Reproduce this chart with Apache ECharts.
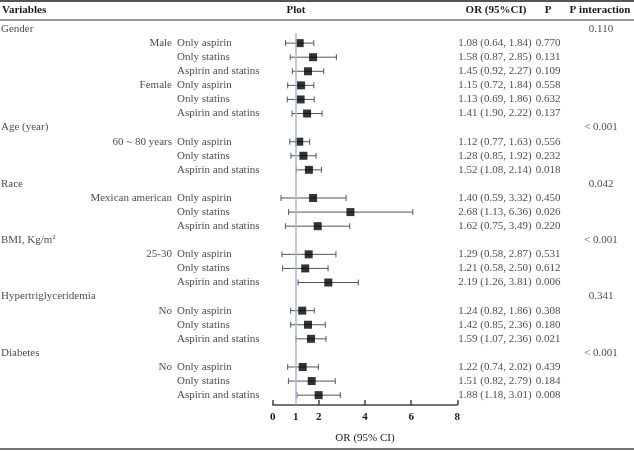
<!DOCTYPE html>
<html>
<head>
<meta charset="utf-8">
<script src="https://cdn.jsdelivr.net/npm/echarts@6/dist/echarts.min.js"></script>
<style>
  html, body { margin: 0; padding: 0; background: #fff; }
  #chart { width: 634px; height: 451px; }
</style>
</head>
<body>
<div id="chart"></div>
<script>
// table text
const groups = ['Gender', 'Age (year)', 'Race', 'BMI, Kg/m{sup|2}', 'Hypertriglyceridemia', 'Diabetes'];
const pInteraction = ['0.110', '< 0.001', '0.042', '< 0.001', '0.341', '< 0.001'];
const subgroups = [['Male', 'Female'], ['60 ~ 80 years'], ['Mexican american'], ['25-30'], ['No'], ['No']];
const treatments = ['Only aspirin', 'Only statins', 'Aspirin and statins'];
const orLabels = [
  '1.08 (0.64, 1.84)', '1.58 (0.87, 2.85)', '1.45 (0.92, 2.27)',
  '1.15 (0.72, 1.84)', '1.13 (0.69, 1.86)', '1.41 (1.90, 2.22)',
  '1.12 (0.77, 1.63)', '1.28 (0.85, 1.92)', '1.52 (1.08, 2.14)',
  '1.40 (0.59, 3.32)', '2.68 (1.13, 6.36)', '1.62 (0.75, 3.49)',
  '1.29 (0.58, 2.87)', '1.21 (0.58, 2.50)', '2.19 (1.26, 3.81)',
  '1.24 (0.82, 1.86)', '1.42 (0.85, 2.36)', '1.59 (1.07, 2.36)',
  '1.22 (0.74, 2.02)', '1.51 (0.82, 2.79)', '1.88 (1.18, 3.01)'
];
const pValues = [
  '0.770', '0.131', '0.109', '0.558', '0.632', '0.137',
  '0.556', '0.232', '0.018',
  '0.450', '0.026', '0.220',
  '0.531', '0.612', '0.006',
  '0.308', '0.180', '0.021',
  '0.439', '0.184', '0.008'
];
// points as drawn in the plot
const plotOR = [1.17, 1.75, 1.53, 1.23, 1.21, 1.49, 1.15, 1.33, 1.57, 1.75, 3.37, 1.95, 1.56, 1.41, 2.41, 1.28, 1.53, 1.66, 1.30, 1.69, 1.99];
const plotLow = [0.56, 0.76, 0.85, 0.65, 0.63, 0.84, 0.74, 0.79, 1.02, 0.36, 0.69, 0.55, 0.40, 0.43, 1.10, 0.78, 0.78, 1.01, 0.65, 0.68, 1.05];
const plotHigh = [1.78, 2.76, 2.21, 1.78, 1.80, 2.14, 1.60, 1.88, 2.11, 3.18, 6.07, 3.34, 2.74, 2.40, 3.71, 1.80, 2.28, 2.31, 1.98, 2.71, 2.93];
const xTicks = [0, 2, 4, 6, 8];
const xLabels = [0, 1, 2, 4, 6, 8];

// build rows
const groupText = [], pIntText = [], subText = [], treatText = [], orText = [], pText = [];
const squares = [], whiskers = [];
let row = 0, k = 0;
groups.forEach((g, gi) => {
  groupText.push([1, row, g]);
  pIntText.push([601, row, pInteraction[gi]]);
  row++;
  subgroups[gi].forEach(s => {
    subText.push([172, row, s]);
    treatments.forEach(t => {
      treatText.push([177, row, t]);
      orText.push([495, row, orLabels[k]]);
      pText.push([548, row, pValues[k]]);
      squares.push([plotOR[k], row]);
      whiskers.push([plotLow[k], plotHigh[k], row]);
      row++; k++;
    });
  });
});
const yMax = 26.7;

const font = "'Liberation Serif', 'DejaVu Serif', serif";
const textSeries = (data, align) => ({
  type: 'scatter', xAxisIndex: 1, yAxisIndex: 1, data: data, symbolSize: 0, silent: true,
  label: {
    show: true, position: 'inside', align: align, verticalAlign: 'middle',
    formatter: p => p.value[2], fontFamily: font, fontSize: 11, color: '#1a1a1a',
    rich: { sup: { fontSize: 7, fontFamily: font, color: '#1a1a1a', padding: [0, 0, 6, 0] } }
  }
});
const header = (text, x, align) => ({
  type: 'text', x: x, y: 10,
  style: { text: text, font: 'bold 11px ' + font, fill: '#1a1a1a', align: align, verticalAlign: 'middle' }
});
const rule = (y, color) => ({
  type: 'line', shape: { x1: 0, y1: y, x2: 634, y2: y },
  style: { stroke: color, lineWidth: 2 }
});

const chart = echarts.init(document.getElementById('chart'));
chart.setOption({
  animation: false,
  grid: [
    { left: 272.7, right: 176.7, top: 22, bottom: 46 },
    { left: 0, right: 0, top: 22, bottom: 46 }
  ],
  xAxis: [{
    type: 'value', gridIndex: 0, min: 0, max: 8, position: 'bottom',
    name: 'OR (95% CI)', nameLocation: 'middle', nameGap: 28,
    nameTextStyle: { fontFamily: font, fontSize: 11, color: '#1a1a1a' },
    axisLine: { onZero: false, lineStyle: { color: '#444', width: 1.5 } },
    axisTick: { inside: true, length: 5, customValues: xTicks, lineStyle: { color: '#444', width: 1.5 } },
    axisLabel: { customValues: xLabels, fontFamily: font, fontSize: 11, fontWeight: 'bold', color: '#1a1a1a', margin: 7 },
    splitLine: { show: false }
  }, {
    type: 'value', gridIndex: 1, min: 0, max: 634, show: false
  }],
  yAxis: [
    { type: 'value', gridIndex: 0, inverse: true, min: -0.5, max: yMax, show: false },
    { type: 'value', gridIndex: 1, inverse: true, min: -0.5, max: yMax, show: false }
  ],
  graphic: [
    rule(1, '#555'), rule(20, '#999'), rule(449, '#777'),
    header('Variables', 2, 'left'), header('Plot', 296, 'center'),
    header('OR (95%CI)', 496, 'center'), header('P', 548, 'center'),
    header('P interaction', 600, 'center')
  ],
  series: [
    {
      type: 'custom', xAxisIndex: 0, yAxisIndex: 0, data: whiskers, silent: true,
      encode: { x: [0, 1], y: 2 },
      renderItem: (params, api) => {
        const a = api.coord([api.value(0), api.value(2)]);
        const b = api.coord([api.value(1), api.value(2)]);
        const st = { stroke: '#555', lineWidth: 1 };
        return {
          type: 'group', children: [
            { type: 'line', shape: { x1: a[0], y1: a[1], x2: b[0], y2: b[1] }, style: st },
            { type: 'line', shape: { x1: a[0], y1: a[1] - 3, x2: a[0], y2: a[1] + 3 }, style: st },
            { type: 'line', shape: { x1: b[0], y1: b[1] - 3, x2: b[0], y2: b[1] + 3 }, style: st }
          ]
        };
      },
      markLine: {
        silent: true, symbol: 'none', label: { show: false },
        lineStyle: { color: '#a3b9dd', width: 1.5, type: 'solid' },
        data: [[{ coord: [1, 0.3] }, { coord: [1, yMax] }]]
      }
    },
    {
      type: 'scatter', xAxisIndex: 0, yAxisIndex: 0, data: squares, silent: true,
      symbol: 'rect', symbolSize: 8, itemStyle: { color: '#000' }, z: 3
    },
    textSeries(groupText, 'left'),
    textSeries(pIntText, 'center'),
    textSeries(subText, 'right'),
    textSeries(treatText, 'left'),
    textSeries(orText, 'center'),
    textSeries(pText, 'center')
  ]
});
</script>
</body>
</html>
